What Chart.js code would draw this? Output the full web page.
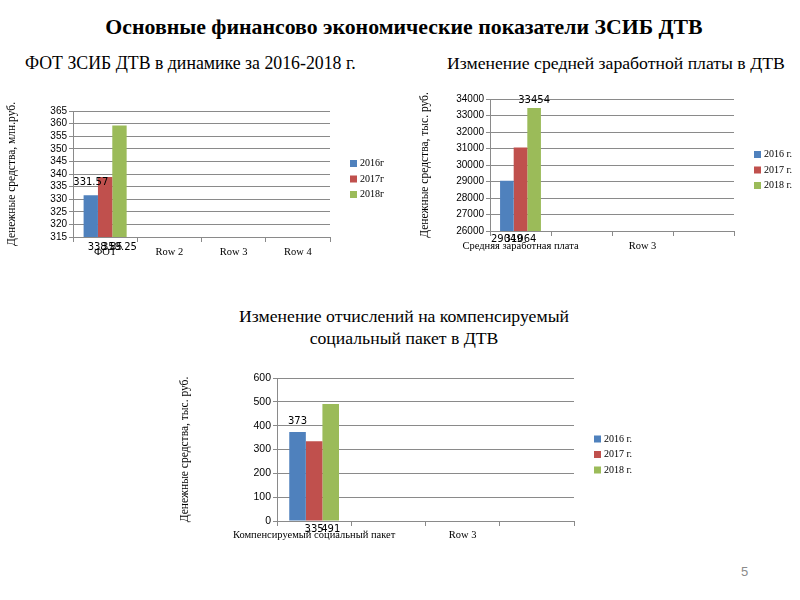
<!DOCTYPE html>
<html lang="ru">
<head>
<meta charset="utf-8">
<title>Основные финансово экономические показатели ЗСИБ ДТВ</title>
<script src="https://cdn.jsdelivr.net/npm/chart.js@4.4.0/dist/chart.umd.min.js"></script>
<style>
  html, body { margin: 0; padding: 0; background: #fff; }
  body { width: 800px; height: 600px; position: relative; overflow: hidden; font-family: 'Liberation Serif', serif; color: #000; }
  .txt { position: absolute; white-space: nowrap; line-height: 1; }
  .main  { left: -8px; width: 824px; top: 17px; text-align: center; font-size: 21.8px; font-weight: bold; }
  .sub1  { left: 25px; top: 55px; font-size: 17.8px; }
  .sub2  { left: 447px; top: 55px; font-size: 17.7px; }
  .sub3  { left: 0; width: 808px; top: 305px; text-align: center; font-size: 17.7px; line-height: 22px; }
  .page  { position: absolute; left: 741px; top: 564px; font: 13px 'Liberation Sans', sans-serif; color: #8b8b8b; }
  canvas { position: absolute; }
  #fotChart { left: 0;     top: 95px;  }
  #avgChart { left: 415px; top: 78px;  }
  #socChart { left: 175px; top: 362px; }
</style>
</head>
<body>

<div class="txt main">Основные финансово экономические показатели ЗСИБ ДТВ</div>
<div class="txt sub1">ФОТ ЗСИБ ДТВ в динамике за 2016-2018 г.</div>
<div class="txt sub2">Изменение средней заработной платы в ДТВ</div>
<div class="txt sub3">Изменение отчислений на компенсируемый<br>социальный пакет в ДТВ</div>
<div class="page">5</div>

<canvas id="fotChart" width="400" height="170"></canvas>
<canvas id="avgChart" width="385" height="180"></canvas>
<canvas id="socChart" width="480" height="190"></canvas>

<script>
// ── Office-style series colours ─────────────────────────────────────────
const COLORS = ['#4F81BD', '#C0504D', '#9BBB59'];

// ── ФОТ, млн.руб. ───────────────────────────────────────────────────────
const fotCategories = ['ФОТ', 'Row 2', 'Row 3', 'Row 4'];
const fotSeries     = ['2016г', '2017г', '2018г'];
const fot2016       = [331.57];
const fot2017       = [338.85];
const fot2018       = [359.25];
const fotTicks      = [315, 320, 325, 330, 335, 340, 345, 350, 355, 360, 365];

// ── Средняя заработная плата, тыс. руб. ─────────────────────────────────
const avgCategories = ['Средняя заработная плата', 'Row 2', 'Row 3', 'Row 4'];
const avgSeries     = ['2016 г.', '2017 г.', '2018 г.'];
const avg2016       = [29049];
const avg2017       = [31064];
const avg2018       = [33454];
const avgTicks      = [26000, 27000, 28000, 29000, 30000, 31000, 32000, 33000, 34000];

// ── Компенсируемый социальный пакет, тыс. руб. ──────────────────────────
const socCategories = ['Компенсируемый социальный пакет', 'Row 2', 'Row 3', 'Row 4'];
const socSeries     = ['2016 г.', '2017 г.', '2018 г.'];
const soc2016       = [373];
const soc2017       = [335];
const soc2018       = [491];
const socTicks      = [0, 100, 200, 300, 400, 500, 600];

const GRID = '#8a8a8a';

// Value labels: some sit above the bar, some just under the axis
const barLabels = {
  id: 'barLabels',
  afterDatasetsDraw(chart, args, opts) {
    const { ctx, chartArea } = chart;
    ctx.save();
    ctx.font = '10px "DejaVu Sans"';
    ctx.fillStyle = '#000';
    ctx.textAlign = 'center';
    ctx.textBaseline = 'middle';
    chart.data.datasets.forEach((ds, i) => {
      const meta = chart.getDatasetMeta(i);
      meta.data.forEach((bar, j) => {
        const v = ds.data[j];
        if (v == null) return;
        const top = opts.place[i] === 'top';
        const y = top ? bar.y - opts.topGap : chartArea.bottom + opts.baseGap;
        ctx.fillText(String(v), bar.x, y);
      });
    });
    ctx.restore();
  }
};

// Legend to the right of the plot, small square swatches
const sideLegend = {
  id: 'sideLegend',
  afterDraw(chart, args, opts) {
    const { ctx, chartArea } = chart;
    const x = chartArea.right + opts.gap;
    const mid = (chartArea.top + chartArea.bottom) / 2 + 5;
    const n = chart.data.datasets.length;
    ctx.save();
    ctx.font = '10px "Liberation Serif"';
    ctx.textAlign = 'left';
    ctx.textBaseline = 'middle';
    chart.data.datasets.forEach((ds, i) => {
      const y = mid + (i - (n - 1) / 2) * 15.5;
      ctx.fillStyle = ds.backgroundColor;
      ctx.fillRect(x, y - 3.5, 7, 7);
      ctx.fillStyle = '#000';
      ctx.fillText(ds.label, x + 10, y);
    });
    ctx.restore();
  }
};

function makeChart(id, c) {
  return new Chart(document.getElementById(id), {
    type: 'bar',
    data: {
      labels: c.categories,
      datasets: c.values.map((v, i) => ({
        label: c.series[i],
        data: v,
        backgroundColor: COLORS[i],
        barPercentage: 1,
        categoryPercentage: 0.67,
      })),
    },
    options: {
      responsive: false,
      animation: false,
      layout: { padding: { top: c.padTop, right: c.padRight, left: 0, bottom: 0 } },
      scales: {
        x: {
          grid: { drawOnChartArea: false, tickLength: 5, color: GRID },
          border: { color: GRID },
          ticks: {
            autoSkip: false, maxRotation: 0, color: '#000', padding: c.xPad,
            font: { family: 'Liberation Serif', size: 10.5 },
            // every other category label is skipped, as in the source chart
            callback(v, i) { return i % c.every ? '' : this.getLabelForValue(v); },
          },
          afterFit: s => { s.height = c.xHeight; },
        },
        y: {
          min: c.ticks[0],
          max: c.ticks[c.ticks.length - 1],
          ticks: {
            stepSize: c.ticks[1] - c.ticks[0], autoSkip: false, color: '#000', padding: 2,
            font: { family: 'Liberation Sans', size: c.tickSize },
            callback: v => String(v),
          },
          grid: { color: GRID, tickLength: 4 },
          border: { color: GRID },
          title: {
            display: true, text: c.yTitle, color: '#000',
            font: { family: 'Liberation Serif', size: 11.5 },
            padding: { top: c.titleTop, bottom: 0 },
          },
          afterFit: s => { s.width = c.axisX; },
        },
      },
      plugins: {
        legend: { display: false },
        tooltip: { enabled: false },
        barLabels: { place: c.place, topGap: c.topGap, baseGap: c.baseGap },
        sideLegend: { gap: 20 },
      },
    },
    plugins: [barLabels, sideLegend],
  });
}

makeChart('fotChart', {
  categories: fotCategories, series: fotSeries, values: [fot2016, fot2017, fot2018], ticks: fotTicks,
  yTitle: 'Денежные средства, млн.руб.', every: 1, tickSize: 10,
  axisX: 73, padTop: 16, padRight: 70, xHeight: 28, xPad: 4, titleTop: 5,
  place: ['top', 'base', 'base'], topGap: 13, baseGap: 10,
});

makeChart('avgChart', {
  categories: avgCategories, series: avgSeries, values: [avg2016, avg2017, avg2018], ticks: avgTicks,
  yTitle: 'Денежные средства, тыс. руб.', every: 2, tickSize: 10,
  axisX: 75, padTop: 21, padRight: 66, xHeight: 27, xPad: 4, titleTop: 3,
  place: ['base', 'base', 'top'], topGap: 8, baseGap: 8,
});

makeChart('socChart', {
  categories: socCategories, series: socSeries, values: [soc2016, soc2017, soc2018], ticks: socTicks,
  yTitle: 'Денежные средства, тыс. руб.', every: 2, tickSize: 10.5,
  axisX: 102, padTop: 16, padRight: 81, xHeight: 31, xPad: 3, titleTop: 3,
  place: ['top', 'base', 'base'], topGap: 11, baseGap: 8,
});
</script>
</body>
</html>
